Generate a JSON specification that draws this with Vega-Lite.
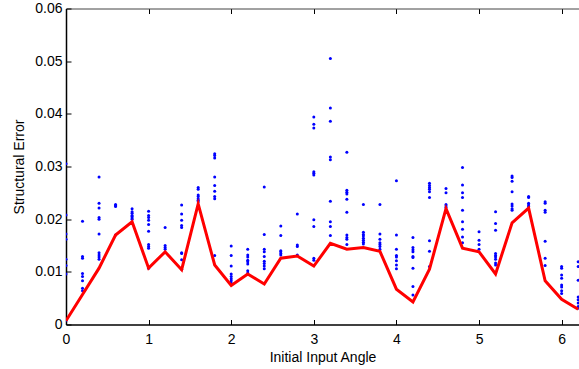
{
  "$schema": "https://vega.github.io/schema/vega-lite/v6.json",
  "width": 513,
  "height": 316,
  "autosize": {"type": "none"},
  "padding": {"left": 66, "top": 8.5, "right": 0, "bottom": 44.5},
  "background": "white",
  "config": {
    "view": {"stroke": null},
    "font": "Liberation Sans",
    "axis": {
      "labelFont": "Liberation Sans",
      "titleFont": "Liberation Sans",
      "labelFontSize": 14,
      "titleFontSize": 14,
      "titleFontWeight": "normal",
      "labelColor": "#000000",
      "titleColor": "#000000",
      "domainColor": "#000000",
      "tickColor": "#000000",
      "grid": false
    }
  },
  "datasets": {
    "pts": [
      {"a":0,"e":0.0305},{"a":0,"e":0.0208},{"a":0,"e":0.0172},{"a":0,"e":0.0162},{"a":0,"e":0.0124},{"a":0,"e":0.0112},{"a":0,"e":0.0096},{"a":0,"e":0.0008},
      {"a":0.2,"e":0.0196},{"a":0.2,"e":0.0129},{"a":0.2,"e":0.0126},{"a":0.2,"e":0.0097},{"a":0.2,"e":0.0091},{"a":0.2,"e":0.0083},{"a":0.2,"e":0.0069},{"a":0.2,"e":0.0064},
      {"a":0.4,"e":0.0280},{"a":0.4,"e":0.0230},{"a":0.4,"e":0.0221},{"a":0.4,"e":0.0203},{"a":0.4,"e":0.0200},{"a":0.4,"e":0.0172},{"a":0.4,"e":0.0136},{"a":0.4,"e":0.0132},{"a":0.4,"e":0.0128},{"a":0.4,"e":0.0124},
      {"a":0.6,"e":0.0228},{"a":0.6,"e":0.0226},{"a":0.6,"e":0.0224},{"a":0.6,"e":0.0170},
      {"a":0.8,"e":0.0220},{"a":0.8,"e":0.0214},{"a":0.8,"e":0.0211},{"a":0.8,"e":0.0207},{"a":0.8,"e":0.0205},{"a":0.8,"e":0.0202},{"a":0.8,"e":0.0200},
      {"a":1.0,"e":0.0215},{"a":1.0,"e":0.0207},{"a":1.0,"e":0.0203},{"a":1.0,"e":0.0198},{"a":1.0,"e":0.0190},{"a":1.0,"e":0.0177},{"a":1.0,"e":0.0152},{"a":1.0,"e":0.0148},{"a":1.0,"e":0.0145},{"a":1.0,"e":0.0107},
      {"a":1.2,"e":0.0184},{"a":1.2,"e":0.0150},{"a":1.2,"e":0.0146},{"a":1.2,"e":0.0143},
      {"a":1.4,"e":0.0227},{"a":1.4,"e":0.0210},{"a":1.4,"e":0.0198},{"a":1.4,"e":0.0188},{"a":1.4,"e":0.0184},{"a":1.4,"e":0.0136},{"a":1.4,"e":0.0135},{"a":1.4,"e":0.0123},{"a":1.4,"e":0.0105},
      {"a":1.6,"e":0.0260},{"a":1.6,"e":0.0257},{"a":1.6,"e":0.0246},{"a":1.6,"e":0.0243},{"a":1.6,"e":0.0239},{"a":1.6,"e":0.0236},{"a":1.6,"e":0.0233},
      {"a":1.8,"e":0.0324},{"a":1.8,"e":0.0321},{"a":1.8,"e":0.0316},{"a":1.8,"e":0.0280},{"a":1.8,"e":0.0264},{"a":1.8,"e":0.0253},{"a":1.8,"e":0.0243},{"a":1.8,"e":0.0239},{"a":1.8,"e":0.0131},
      {"a":2.0,"e":0.0149},{"a":2.0,"e":0.0131},{"a":2.0,"e":0.0111},{"a":2.0,"e":0.0096},{"a":2.0,"e":0.0091},{"a":2.0,"e":0.0087},{"a":2.0,"e":0.0083},{"a":2.0,"e":0.0079},
      {"a":2.2,"e":0.0143},{"a":2.2,"e":0.0132},{"a":2.2,"e":0.0128},{"a":2.2,"e":0.0122},{"a":2.2,"e":0.0119},{"a":2.2,"e":0.0115},{"a":2.2,"e":0.0102},{"a":2.2,"e":0.0098},
      {"a":2.4,"e":0.0261},{"a":2.4,"e":0.0171},{"a":2.4,"e":0.0143},{"a":2.4,"e":0.0138},{"a":2.4,"e":0.0129},{"a":2.4,"e":0.0120},{"a":2.4,"e":0.0116},{"a":2.4,"e":0.0111},{"a":2.4,"e":0.0106},
      {"a":2.6,"e":0.0187},{"a":2.6,"e":0.0169},{"a":2.6,"e":0.0140},{"a":2.6,"e":0.0138},{"a":2.6,"e":0.0135},{"a":2.6,"e":0.0132},
      {"a":2.8,"e":0.0210},{"a":2.8,"e":0.0151},{"a":2.8,"e":0.0148},{"a":2.8,"e":0.0132},
      {"a":3.0,"e":0.0394},{"a":3.0,"e":0.0380},{"a":3.0,"e":0.0373},{"a":3.0,"e":0.0290},{"a":3.0,"e":0.0287},{"a":3.0,"e":0.0284},{"a":3.0,"e":0.0199},{"a":3.0,"e":0.0186},{"a":3.0,"e":0.0126},{"a":3.0,"e":0.0122},
      {"a":3.2,"e":0.0505},{"a":3.2,"e":0.0411},{"a":3.2,"e":0.0386},{"a":3.2,"e":0.0318},{"a":3.2,"e":0.0313},{"a":3.2,"e":0.0234},{"a":3.2,"e":0.0195},{"a":3.2,"e":0.0186},{"a":3.2,"e":0.0169},
      {"a":3.4,"e":0.0327},{"a":3.4,"e":0.0255},{"a":3.4,"e":0.0251},{"a":3.4,"e":0.0248},{"a":3.4,"e":0.0238},{"a":3.4,"e":0.0213},{"a":3.4,"e":0.0170},{"a":3.4,"e":0.0165},{"a":3.4,"e":0.0162},{"a":3.4,"e":0.0152},
      {"a":3.6,"e":0.0228},{"a":3.6,"e":0.0175},{"a":3.6,"e":0.0171},{"a":3.6,"e":0.0168},{"a":3.6,"e":0.0164},{"a":3.6,"e":0.0160},{"a":3.6,"e":0.0156},{"a":3.6,"e":0.0153},
      {"a":3.8,"e":0.0228},{"a":3.8,"e":0.0172},{"a":3.8,"e":0.0162},{"a":3.8,"e":0.0155},{"a":3.8,"e":0.0152},{"a":3.8,"e":0.0148},{"a":3.8,"e":0.0143},
      {"a":4.0,"e":0.0273},{"a":4.0,"e":0.0170},{"a":4.0,"e":0.0143},{"a":4.0,"e":0.0131},{"a":4.0,"e":0.0128},{"a":4.0,"e":0.0121},{"a":4.0,"e":0.0113},{"a":4.0,"e":0.0106},
      {"a":4.2,"e":0.0165},{"a":4.2,"e":0.0146},{"a":4.2,"e":0.0142},{"a":4.2,"e":0.0138},{"a":4.2,"e":0.0129},{"a":4.2,"e":0.0127},{"a":4.2,"e":0.0107},{"a":4.2,"e":0.0072},{"a":4.2,"e":0.0056},
      {"a":4.4,"e":0.0268},{"a":4.4,"e":0.0264},{"a":4.4,"e":0.0260},{"a":4.4,"e":0.0257},{"a":4.4,"e":0.0252},{"a":4.4,"e":0.0241},{"a":4.4,"e":0.0159},{"a":4.4,"e":0.0139},{"a":4.4,"e":0.0110},
      {"a":4.6,"e":0.0258},{"a":4.6,"e":0.0250},{"a":4.6,"e":0.0228},{"a":4.6,"e":0.0225},{"a":4.6,"e":0.0222},
      {"a":4.8,"e":0.0298},{"a":4.8,"e":0.0265},{"a":4.8,"e":0.0250},{"a":4.8,"e":0.0241},{"a":4.8,"e":0.0217},{"a":4.8,"e":0.0195},{"a":4.8,"e":0.0181},{"a":4.8,"e":0.0166},{"a":4.8,"e":0.0155},
      {"a":5.0,"e":0.0176},{"a":5.0,"e":0.0160},{"a":5.0,"e":0.0152},{"a":5.0,"e":0.0143},
      {"a":5.2,"e":0.0214},{"a":5.2,"e":0.0192},{"a":5.2,"e":0.0179},{"a":5.2,"e":0.0135},{"a":5.2,"e":0.0131},{"a":5.2,"e":0.0128},{"a":5.2,"e":0.0124},{"a":5.2,"e":0.0117},{"a":5.2,"e":0.0113},
      {"a":5.4,"e":0.0282},{"a":5.4,"e":0.0279},{"a":5.4,"e":0.0272},{"a":5.4,"e":0.0252},{"a":5.4,"e":0.0229},{"a":5.4,"e":0.0225},{"a":5.4,"e":0.0220},{"a":5.4,"e":0.0217},
      {"a":5.6,"e":0.0243},{"a":5.6,"e":0.0241},{"a":5.6,"e":0.0230},{"a":5.6,"e":0.0227},{"a":5.6,"e":0.0224},
      {"a":5.8,"e":0.0233},{"a":5.8,"e":0.0230},{"a":5.8,"e":0.0217},{"a":5.8,"e":0.0213},{"a":5.8,"e":0.0158},{"a":5.8,"e":0.0126},{"a":5.8,"e":0.0112},
      {"a":6.0,"e":0.0110},{"a":6.0,"e":0.0107},{"a":6.0,"e":0.0094},{"a":6.0,"e":0.0088},{"a":6.0,"e":0.0075},{"a":6.0,"e":0.0071},{"a":6.0,"e":0.0064},{"a":6.0,"e":0.0059},
      {"a":6.2,"e":0.0119},{"a":6.2,"e":0.0110},{"a":6.2,"e":0.0084},{"a":6.2,"e":0.0052},{"a":6.2,"e":0.0047},{"a":6.2,"e":0.0041},{"a":6.2,"e":0.0034},{"a":6.2,"e":0.0031}
    ],
    "line": [
      {"a":0,"e":0.0007},{"a":0.2,"e":0.0057},{"a":0.4,"e":0.0107},{"a":0.6,"e":0.0170},{"a":0.8,"e":0.0195},
      {"a":1.0,"e":0.0107},{"a":1.2,"e":0.0138},{"a":1.4,"e":0.0104},{"a":1.6,"e":0.0229},{"a":1.8,"e":0.0113},
      {"a":2.0,"e":0.0074},{"a":2.2,"e":0.0096},{"a":2.4,"e":0.0077},{"a":2.6,"e":0.0126},{"a":2.8,"e":0.0130},
      {"a":3.0,"e":0.0111},{"a":3.2,"e":0.0154},{"a":3.4,"e":0.0143},{"a":3.6,"e":0.0146},{"a":3.8,"e":0.0139},
      {"a":4.0,"e":0.0067},{"a":4.2,"e":0.0043},{"a":4.4,"e":0.0105},{"a":4.6,"e":0.0220},{"a":4.8,"e":0.0145},
      {"a":5.0,"e":0.0138},{"a":5.2,"e":0.0096},{"a":5.4,"e":0.0193},{"a":5.6,"e":0.0221},{"a":5.8,"e":0.0083},
      {"a":6.0,"e":0.0048},{"a":6.2,"e":0.0029}
    ]
  },
  "layer": [
    {
      "data": {"name": "pts"},
      "mark": {"type": "circle", "color": "#0000ff", "opacity": 1, "size": 9, "clip": true},
      "encoding": {
        "x": {
          "field": "a", "type": "quantitative",
          "scale": {"domain": [0, 6.21], "nice": false, "zero": false},
          "axis": {
            "orient": "bottom", "title": "Initial Input Angle",
            "values": [0, 1, 2, 3, 4, 5, 6], "format": "d",
            "tickSize": -5, "labelPadding": 13, "titlePadding": 4,
            "domainWidth": 1.5, "labelFlush": false
          }
        },
        "y": {
          "field": "e", "type": "quantitative",
          "scale": {"domain": [0, 0.06], "nice": false},
          "axis": {
            "title": "Structural Error",
            "values": [0, 0.01, 0.02, 0.03, 0.04, 0.05, 0.06],
            "labelExpr": "datum.value == 0 ? '0' : format(datum.value, '.2f')",
            "tickSize": -5, "labelPadding": 9, "titlePadding": 8,
            "domainWidth": 1.5, "labelFlush": false
          }
        }
      }
    },
    {
      "data": {"name": "line"},
      "mark": {"type": "line", "color": "#ff0000", "strokeWidth": 3, "clip": true},
      "encoding": {
        "x": {
          "field": "a", "type": "quantitative",
          "axis": {
            "orient": "top", "title": null, "labels": false,
            "values": [0, 1, 2, 3, 4, 5, 6],
            "tickSize": -5, "domainWidth": 1, "domainColor": "#444444"
          }
        },
        "y": {"field": "e", "type": "quantitative"}
      }
    }
  ],
  "resolve": {"axis": {"x": "independent"}}
}
